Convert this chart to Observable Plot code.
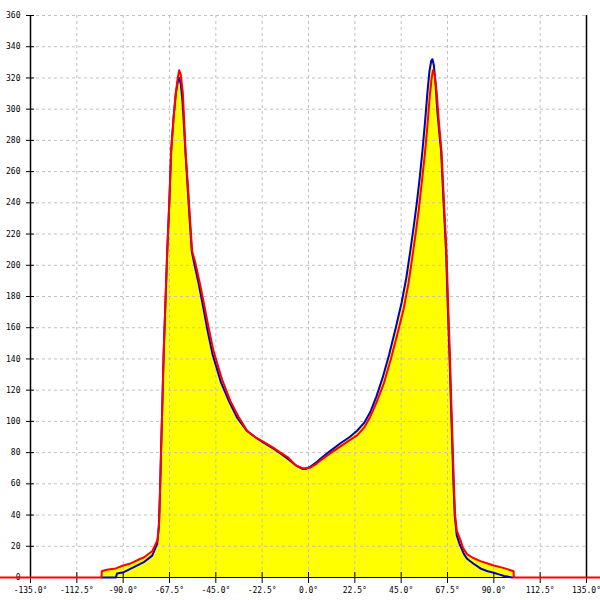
<!DOCTYPE html>
<html><head><meta charset="utf-8">
<script src="https://cdn.jsdelivr.net/npm/d3@7"></script>
<script src="https://cdn.jsdelivr.net/npm/@observablehq/plot@0.6"></script>
<style>body{margin:0;background:#fff}</style>
</head><body><div id="chart"></div>
<script>
const xTicks = [-135, -112.5, -90, -67.5, -45, -22.5, 0, 22.5, 45, 67.5, 90, 112.5, 135];
const yTicks = [0,20,40,60,80,100,120,140,160,180,200,220,240,260,280,300,320,340,360];

const redAngle = [-150,-100.5,-100.4,-98,-93.6,-90,-86.4,-81.6,-80,-75.8,-73.3,-72.5,-72.0,-71.6,-71.0,-70.3,-69.5,-68.6,-67.6,-66.7,-65.5,-64.5,-63.5,-62.8,-62.0,-61.0,-60.3,-59.7,-58.5,-57.3,-56.5,-55.0,-53,-51,-48.5,-46.1,-42,-37.9,-34,-29.8,-26,-22,-17,-13.6,-10,-6.3,-3,-1.5,1,4,5.8,10,15.5,20,23.6,27,30,33,36.5,40,43,46.2,48.5,50.3,52,53.6,55,56.5,57.8,58.8,59.8,60.5,61.3,62.3,63.3,64.6,65.8,67,67.8,68.6,69.4,70.1,70.6,71.2,72,73.8,75,77,80,83.5,87,90,95,99.6,99.7,150];
const redValue = [0,0,4,5,5.8,7.7,9,12,12.8,17,24,36,60,81,110,145,175,209,240,273,295,310,320,325,322,310,290,273,250,225,209,202,190,177,160,145,127,113,103,94,90,87,83,80,77,72,70,70,70.5,73,75,79,84,88,91,96,103,112,124,140,155,172,188,204,220,236,253,271,290,307,320,325,322,310,292,273,240,209,175,145,110,81,60,40,30,24,19,15,12.5,10.5,9,7.7,6,4,0,0];

const blueAngle = [-100.5,-93.5,-93,-89.7,-84.8,-80,-75.9,-73.5,-72.7,-72.1,-71.6,-71.0,-70.3,-69.5,-68.6,-67.6,-66.7,-65.5,-64.4,-63.4,-62.8,-62.0,-61.2,-60.4,-59.8,-58.7,-57.5,-56.7,-55.3,-53.3,-51.4,-49,-46.6,-42.5,-38.3,-34.5,-30,-26,-22,-17,-13.6,-10,-6.3,-3,-1.5,1,4,5.8,10,15.5,20,23.6,27,30,33,36,39.2,42.2,45.2,47.5,49.3,51,52.6,54,55.3,56.6,57.7,58.7,59.6,60.2,60.9,61.7,62.5,63.5,64.4,65.6,66.8,67.6,68.4,69.2,69.9,70.4,71,72,73.5,75.5,77,80,83.5,87,90,92.5,95,98.9];
const blueValue = [0,0,2.5,3.4,6.6,9.8,14,21.6,32,55,81,110,145,175,209,240,273,295,310,318,320,316,305,288,273,250,225,209,200,188,175,158,143,125,112,102,94,90,86.5,82.5,79.5,76,72,69.5,69.5,71,74,76,80.5,86,90,94,99,106,116,128,143,159,176,192,208,224,240,256,273,292,310,324,331,332,328,316,300,285,273,240,209,175,145,110,81,60,40,27,21,15,12,9,5.8,4,3,2,1,0];

const red = redAngle.map((a, i) => ({a, v: redValue[i]}));
const blue = blueAngle.map((a, i) => ({a, v: blueValue[i]}));

const chart = Plot.plot({
  width: 600, height: 600,
  marginLeft: 30, marginRight: 14, marginTop: 15, marginBottom: 23,
  style: {fontFamily: "'DejaVu Sans Mono', monospace", fontSize: "8px", color: "#000", background: "#fff"},
  x: {domain: [-135, 135]},
  y: {domain: [0, 360]},
  marks: [
    Plot.areaY(red, {x: "a", y: "v", fill: "#ffff00"}),
    Plot.areaY(blue, {x: "a", y: "v", fill: "#ffff00"}),
    Plot.gridX(xTicks.slice(1, -1), {stroke: "#c0c0c0", strokeOpacity: 1, strokeDasharray: "3,3"}),
    Plot.gridY(yTicks.slice(1), {stroke: "#c0c0c0", strokeOpacity: 1, strokeDasharray: "3,3"}),
    Plot.ruleX([-135, 135], {stroke: "#000", strokeWidth: 1.5}),
    Plot.ruleY([0], {stroke: "#000"}),
    Plot.axisX(xTicks, {tickSize: 11, dy: -5, tickPadding: 4, tickFormat: d => d.toFixed(1) + "°", label: null, fontSize: 8}),
    Plot.axisY(yTicks, {tickSize: 8, dx: 4, tickPadding: 6, tickFormat: d => String(d), label: null}),
    Plot.line(blue, {x: "a", y: "v", stroke: "#0000cc", strokeWidth: 2}),
    Plot.line(red, {x: "a", y: "v", stroke: "#ff0000", strokeWidth: 2})
  ]
});
document.getElementById("chart").appendChild(chart);
</script></body></html>
